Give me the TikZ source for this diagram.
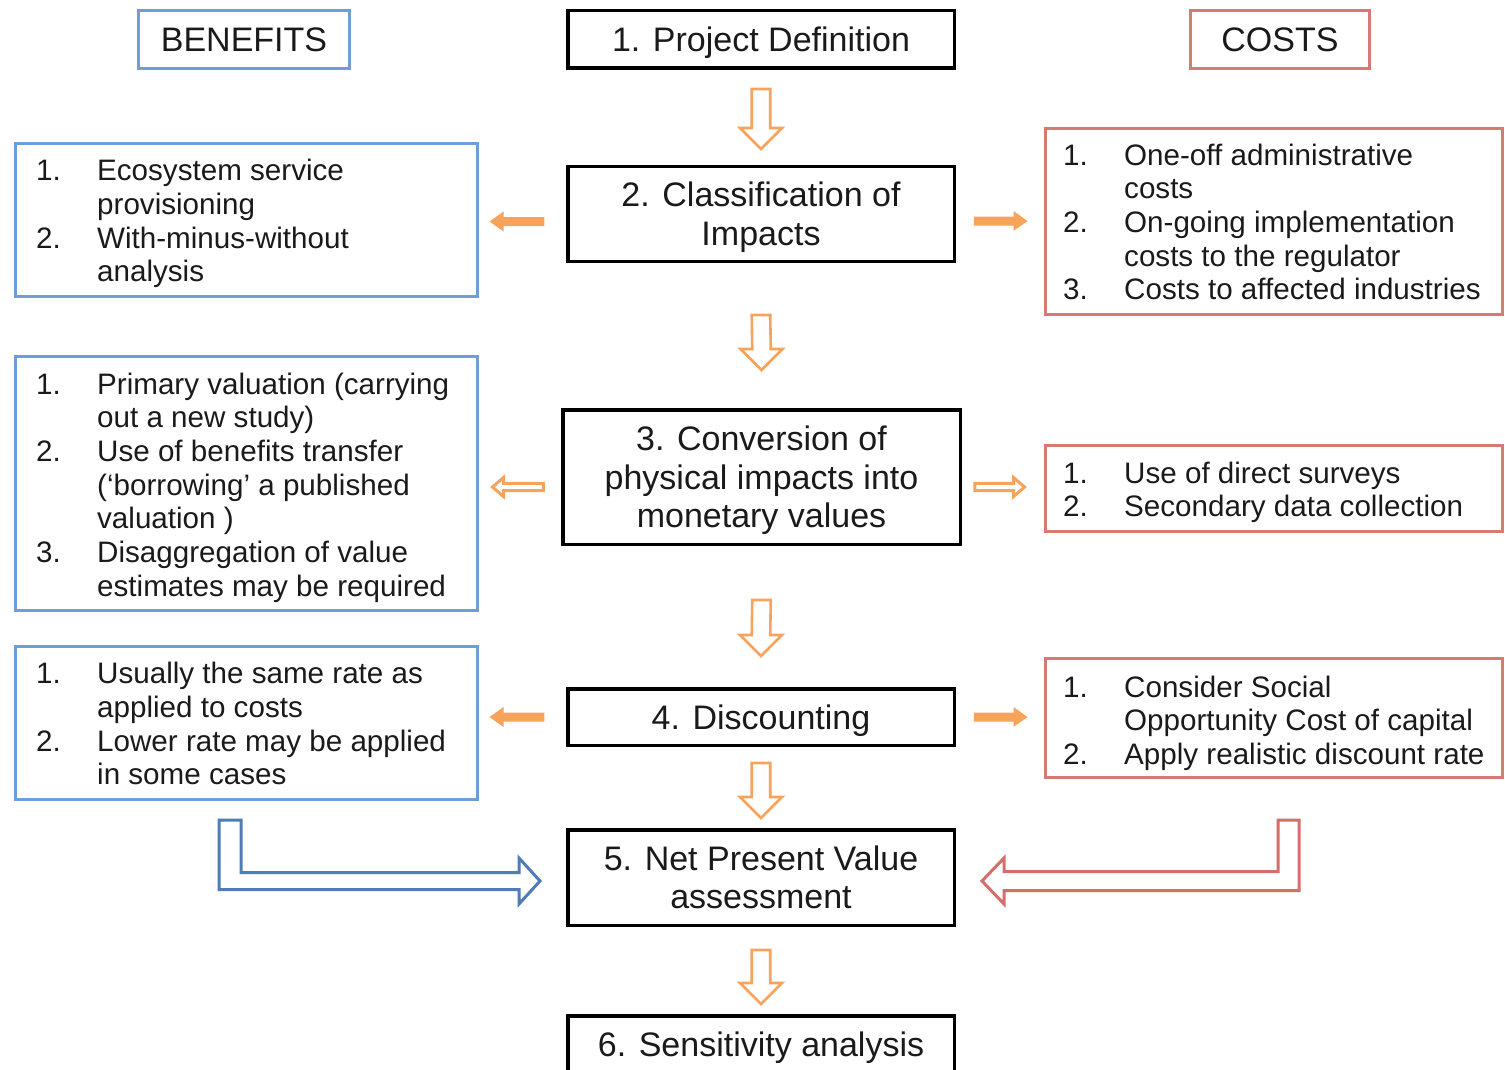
\documentclass[tikz,border=0pt]{standalone}
\usepackage{fontspec}
\setmainfont{Liberation Sans}
\usetikzlibrary{calc}

\definecolor{benblue}{HTML}{6E9ED6}
\definecolor{costred}{HTML}{D67A74}
\definecolor{flow}{HTML}{F7A35C}
\definecolor{benarrow}{HTML}{4E7CB6}
\definecolor{costarrow}{HTML}{D36E68}
\definecolor{ink}{HTML}{1A1A1A}

% number column of the bullet lists
\newcommand\li[1]{\makebox[61pt][l]{#1}}
% struts fixing the first-line height and last-line depth of stage titles
\newcommand\topstrut{\rule{0pt}{32pt}}
\newcommand\botstrut{\rule[-7.6pt]{0pt}{7.6pt}}

% hollow downward block arrow from #1 (top of shaft) to #2 (tip)
\newcommand\downflow[2]{%
  \path[flowhollow] ($(#1)+(-9.25,0)$) -- ($(#1)+(9.25,0)$) -- ($(#2)+(9.25,-21)$)
    -- ($(#2)+(21,-21)$) -- (#2) -- ($(#2)+(-21,-21)$) -- ($(#2)+(-9.25,-21)$) -- cycle;}

% horizontal block arrow: style, tail, tip, shaft half-height, head half-height, signed head length
\newcommand\sideflow[6]{%
  \path[#1] ($(#2)+(0,-#4)$) -- ($(#3)+(#6,-#4)$) -- ($(#3)+(#6,-#5)$) -- (#3)
    -- ($(#3)+(#6,#5)$) -- ($(#3)+(#6,#4)$) -- ($(#2)+(0,#4)$) -- cycle;}

\tikzset{
  stage/.style={draw=black, line width=3.5pt, fill=white, text=ink, align=center,
    font=\fontsize{34}{38.5}\selectfont, inner sep=0pt, minimum width=386.5pt},
  sidehead/.style={line width=3pt, text=ink, font=\fontsize{34}{38.5}\selectfont,
    inner sep=0pt, minimum height=58pt},
  benbox/.style={draw=benblue, line width=3pt, minimum width=462pt},
  costbox/.style={draw=costred, line width=3pt, minimum width=457pt},
  listtext/.style={anchor=north west, inner sep=0pt, align=left, text=ink,
    font=\fontsize{29.6}{33.7}\selectfont},
  flowhollow/.style={draw=flow, line width=2.6pt, fill=white, line join=miter},
  flowsolid/.style={fill=flow},
  flowthin/.style={draw=flow, line width=3pt, fill=white},
  bentben/.style={draw=benarrow, line width=3pt, fill=white, line join=miter},
  bentcost/.style={draw=costarrow, line width=3pt, fill=white, line join=miter},
}

\begin{document}
\begin{tikzpicture}[x=1pt, y=-1pt]
\useasboundingbox (0,0) rectangle (1505,1070);
\clip (0,0) rectangle (1505,1070);

% ---- central stages
\node[stage, minimum height=57.5pt] (pd) at (761,39.5) {\topstrut1. Project Definition\botstrut};
\node[stage, minimum height=94.5pt] (cls) at (761,214) {\topstrut2. Classification of\\Impacts\botstrut};
\node[stage, minimum width=397.5pt, minimum height=134.5pt] (conv) at (761.5,477)
  {\topstrut3. Conversion of\\physical impacts into\\monetary values\botstrut};
\node[stage, minimum height=56.5pt] (disc) at (761,717) {\topstrut4. Discounting\botstrut};
\node[stage, minimum height=95.5pt] (npv) at (761,877.5) {\topstrut5. Net Present Value\\assessment\botstrut};
\node[stage, minimum height=57.5pt] (sens) at (761,1044.5) {\topstrut6. Sensitivity analysis\botstrut};

% ---- column headings
\node[sidehead, draw=benblue, minimum width=211pt] (ben) at (244,39.5) {BENEFITS};
\node[sidehead, draw=costred, minimum width=179pt] (cost) at (1280,39.5) {COSTS};

% ---- benefit boxes
\node[benbox, minimum height=153pt] (b1) at (246.5,220) {};
\node[benbox, minimum height=254pt] (b2) at (246.5,483.5) {};
\node[benbox, minimum height=153pt] (b3) at (246.5,723) {};
\node[listtext] (b1t) at (36,159)
  {\li{1.}Ecosystem service\\\li{}provisioning\\\li{2.}With-minus-without\\\li{}analysis};
\node[listtext] (b2t) at (36,372.5)
  {\li{1.}Primary valuation (carrying\\\li{}out a new study)\\\li{2.}Use of benefits transfer\\
   \li{}(‘borrowing’ a published\\\li{}valuation )\\\li{3.}Disaggregation of value\\
   \li{}estimates may be required};
\node[listtext] (b3t) at (36,662)
  {\li{1.}Usually the same rate as\\\li{}applied to costs\\\li{2.}Lower rate may be applied\\\li{}in some cases};

% ---- cost boxes
\node[costbox, minimum height=186pt] (c1) at (1274,221.5) {};
\node[costbox, minimum height=86pt] (c2) at (1274,488.5) {};
\node[costbox, minimum height=119pt] (c3) at (1274,718) {};
\node[listtext] (c1t) at (1063,143.5)
  {\li{1.}One-off administrative\\\li{}costs\\\li{2.}On-going implementation\\
   \li{}costs to the regulator\\\li{3.}Costs to affected industries};
\node[listtext] (c2t) at (1063,461.5)
  {\li{1.}Use of direct surveys\\\li{2.}Secondary data collection};
\node[listtext] (c3t) at (1063,675.5)
  {\li{1.}Consider Social\\\li{}Opportunity Cost of capital\\\li{2.}Apply realistic discount rate};

% ---- downward flow between stages
\coordinate (d1a) at ($(pd.south)+(0,19)$);   \coordinate (d1b) at ($(cls.north)+(0,-16)$);
\coordinate (d2a) at ($(cls.south)+(0,52)$);  \coordinate (d2b) at ($(conv.north)+(0,-38)$);
\coordinate (d3a) at ($(conv.south)+(0,54)$); \coordinate (d3b) at ($(disc.north)+(0,-31)$);
\coordinate (d4a) at ($(disc.south)+(0,16)$); \coordinate (d4b) at ($(npv.north)+(0,-10)$);
\coordinate (d5a) at ($(npv.south)+(0,23)$);  \coordinate (d5b) at ($(sens.north)+(0,-10)$);
\downflow{d1a}{d1b}
\downflow{d2a}{d2b}
\downflow{d3a}{d3b}
\downflow{d4a}{d4b}
\downflow{d5a}{d5b}

% ---- side arrows
\coordinate (l2a) at ($(cls.west)+(-21.75,7.5)$);  \coordinate (l2b) at ($(b1.east)+(10.5,1.5)$);
\coordinate (r2a) at ($(cls.east)+(17.75,7)$);     \coordinate (r2b) at ($(c1.west)+(-16.5,-0.5)$);
\sideflow{flowsolid}{l2a}{l2b}{4.5}{10}{14}
\sideflow{flowsolid}{r2a}{r2b}{4.5}{10}{-14}

\coordinate (l3a) at ($(conv.west)+(-17.75,10)$);  \coordinate (l3b) at ($(b2.east)+(13.5,3.5)$);
\coordinate (r3a) at ($(conv.east)+(12.75,10)$);   \coordinate (r3b) at ($(c2.west)+(-19.5,-1.5)$);
\sideflow{flowthin}{l3a}{l3b}{3.6}{9.5}{11}
\sideflow{flowthin}{r3a}{r3b}{3.6}{9.5}{-11}

\coordinate (l4a) at ($(disc.west)+(-21.75,0)$);   \coordinate (l4b) at ($(b3.east)+(10.5,-6)$);
\coordinate (r4a) at ($(disc.east)+(17.75,0)$);    \coordinate (r4b) at ($(c3.west)+(-16.5,-1)$);
\sideflow{flowsolid}{l4a}{l4b}{4.5}{10}{14}
\sideflow{flowsolid}{r4a}{r4b}{4.5}{10}{-14}

% ---- bent arrows feeding the NPV assessment
\coordinate (benfrom) at ($(b3.south west)+(216,19)$);
\coordinate (bento) at ($(npv.west)+(-26,3.5)$);
\path[bentben] ($(benfrom)+(-11,0)$) -- ($(benfrom)+(11,0)$) |- ($(bento)+(-21,-8.5)$)
  -- ($(bento)+(-21,-23)$) -- (bento) -- ($(bento)+(-21,23)$) -- ($(bento)+(-21,8.5)$)
  -| ($(benfrom)+(-11,0)$) -- cycle;

\coordinate (costfrom) at ($(c3.south west)+(244.5,41)$);
\coordinate (costto) at ($(npv.east)+(26,3.5)$);
\path[bentcost] ($(costfrom)+(10.5,0)$) -- ($(costfrom)+(-10.5,0)$) |- ($(costto)+(22,-9.5)$)
  -- ($(costto)+(22,-23)$) -- (costto) -- ($(costto)+(22,23)$) -- ($(costto)+(22,9.5)$)
  -| ($(costfrom)+(10.5,0)$) -- cycle;
\end{tikzpicture}
\end{document}
